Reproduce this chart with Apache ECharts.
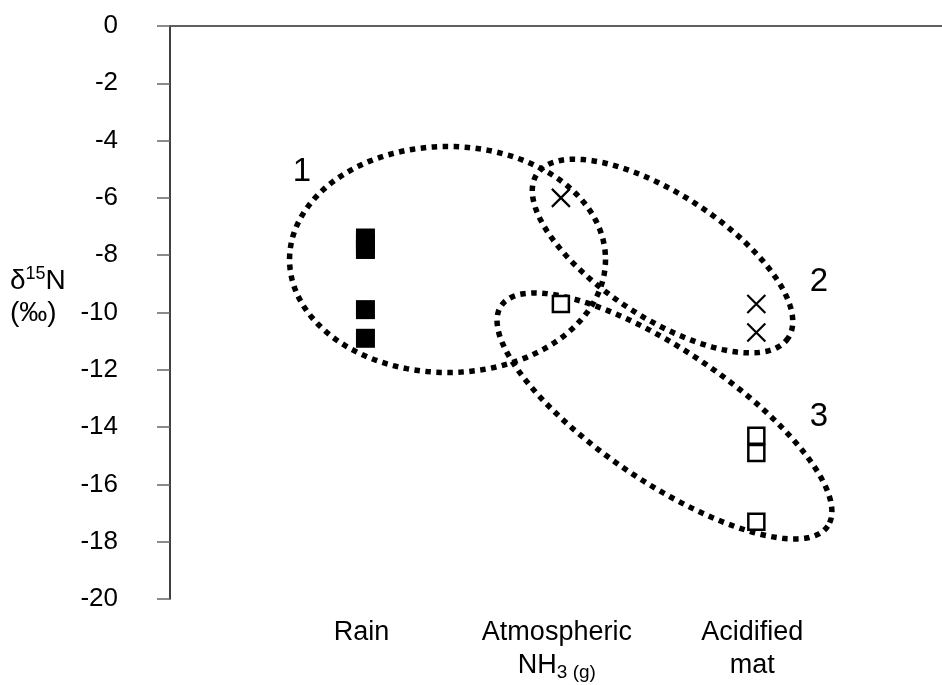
<!DOCTYPE html>
<html>
<head>
<meta charset="utf-8">
<script src="https://cdn.jsdelivr.net/npm/echarts@6/dist/echarts.min.js"></script>
<style>
html, body { margin: 0; padding: 0; background: #fff; }
#main { width: 942px; height: 685px; }
</style>
</head>
<body>
<div id="main"></div>
<script>
// x positions 1, 2, 3 are the three sources
const categories = ['Rain', 'Atmospheric NH3 (g)', 'Acidified mat'];

// filled squares (rain)
const rainX = [1, 1, 1, 1, 1];
const rainY = [-7.4, -7.6, -7.8, -9.9, -10.9];
// crosses
const crossX = [2, 3, 3];
const crossY = [-6.0, -9.7, -10.7];
// open squares
const openX = [2, 3, 3, 3];
const openY = [-9.7, -14.3, -14.9, -17.3];

// dotted group outlines: centre and label anchor in data units
const groupNames = ['1', '2', '3'];
const groupCenters = [[1.42, -8.15], [2.52, -8.03], [2.53, -13.61]];
const groupLabelAt = [[0.675, -5.1], [3.32, -8.94], [3.32, -13.65]];
// outline shape in px: semi-major, semi-minor, rotation (deg)
const groupShape = [[158, 113, 0], [150, 62, 33], [197, 66, 34]];

const FONT = "'Liberation Sans', Arial, sans-serif";

function toPoints(xs, ys) {
    return xs.map((x, i) => [x, ys[i]]);
}

// draws one dotted ellipse plus its number
function renderGroup(params, api) {
    const i = params.dataIndex;
    const c = api.coord([api.value(0), api.value(1)]);
    const a = groupShape[i][0], b = groupShape[i][1];
    const t = groupShape[i][2] * Math.PI / 180;
    let pts = [];
    for (let k = 0; k < 144; k++) {
        const u = k / 144 * Math.PI * 2;
        const ex = a * Math.cos(u), ey = b * Math.sin(u);
        pts.push([c[0] + ex * Math.cos(t) - ey * Math.sin(t),
                  c[1] + ex * Math.sin(t) + ey * Math.cos(t)]);
    }
    const lp = api.coord(groupLabelAt[i]);
    return {
        type: 'group',
        children: [
            {
                type: 'polygon',
                shape: { points: pts },
                style: { fill: 'none', stroke: '#000', lineWidth: 5.5, lineDash: [5.5, 5.5] }
            },
            {
                type: 'text',
                x: lp[0],
                y: lp[1],
                style: {
                    text: groupNames[i], fill: '#000', fontSize: 33, fontFamily: FONT,
                    align: 'center', verticalAlign: 'middle'
                }
            }
        ]
    };
}

function xLabel(v) {
    if (v === 1) return '{m|Rain}';
    if (v === 2) return '{m|Atmospheric}\n{m|NH}{s|3 (g)}';
    if (v === 3) return '{m|Acidified}\n{m|mat}';
    return '';
}

let myChart = echarts.init(document.getElementById('main'));
let option = {
    animation: false,
    backgroundColor: '#fff',
    grid: { left: 170, top: 26, right: 0, height: 573 },
    xAxis: [
        {
            type: 'value',
            min: 0,
            max: 3.95,
            interval: 1,
            position: 'bottom',
            axisLine: { show: true, lineStyle: { color: '#555', width: 1.5 } },
            axisTick: { show: false },
            splitLine: { show: false },
            axisLabel: {
                margin: 17,
                formatter: xLabel,
                showMaxLabel: false,
                padding: [0, 8, 0, 0],
                color: '#000',
                rich: {
                    m: { fontSize: 27, fontFamily: FONT, lineHeight: 33, color: '#000' },
                    s: { fontSize: 19, fontFamily: FONT, lineHeight: 20, verticalAlign: 'bottom', color: '#000' }
                }
            }
        },
        {
            // line at y = 0 along the top
            type: 'value',
            min: 0,
            max: 3.95,
            position: 'top',
            axisLine: { show: true, lineStyle: { color: '#555', width: 1.5 } },
            axisTick: { show: false },
            axisLabel: { show: false },
            splitLine: { show: false }
        }
    ],
    yAxis: {
        type: 'value',
        min: -20,
        max: 0,
        interval: 2,
        axisLine: { show: true, onZero: false, lineStyle: { color: '#000', width: 1.5 } },
        axisTick: { show: true, length: 13, lineStyle: { color: '#666', width: 1.5 } },
        splitLine: { show: false },
        axisLabel: { margin: 52, fontSize: 26, fontFamily: FONT, color: '#000' }
    },
    graphic: [
        {
            type: 'text',
            left: 10,
            top: 265,
            style: {
                text: '{a|δ}{p|15}{a|N}\n{a|(‰)}',
                rich: {
                    a: { fontSize: 28, fontFamily: FONT, lineHeight: 32, fill: '#000' },
                    p: { fontSize: 18, fontFamily: FONT, lineHeight: 20, verticalAlign: 'top', fill: '#000' }
                }
            }
        }
    ],
    series: [
        {
            name: 'groups',
            type: 'custom',
            renderItem: renderGroup,
            data: groupCenters,
            silent: true,
            z: 1
        },
        {
            name: 'Rain',
            type: 'scatter',
            symbol: 'rect',
            symbolSize: 19,
            itemStyle: { color: '#000', opacity: 1 },
            data: toPoints(rainX, rainY),
            z: 3
        },
        {
            name: 'cross',
            type: 'scatter',
            symbol: 'path://M0,0L10,10M10,0L0,10',
            symbolSize: 18,
            itemStyle: { color: 'none', borderColor: '#000', borderWidth: 2.2, opacity: 1 },
            data: toPoints(crossX, crossY),
            z: 3
        },
        {
            name: 'open',
            type: 'scatter',
            symbol: 'rect',
            symbolSize: 16,
            itemStyle: { color: '#fff', borderColor: '#000', borderWidth: 2.5, opacity: 1 },
            data: toPoints(openX, openY),
            z: 3
        }
    ]
};
myChart.setOption(option);
</script>
</body>
</html>
